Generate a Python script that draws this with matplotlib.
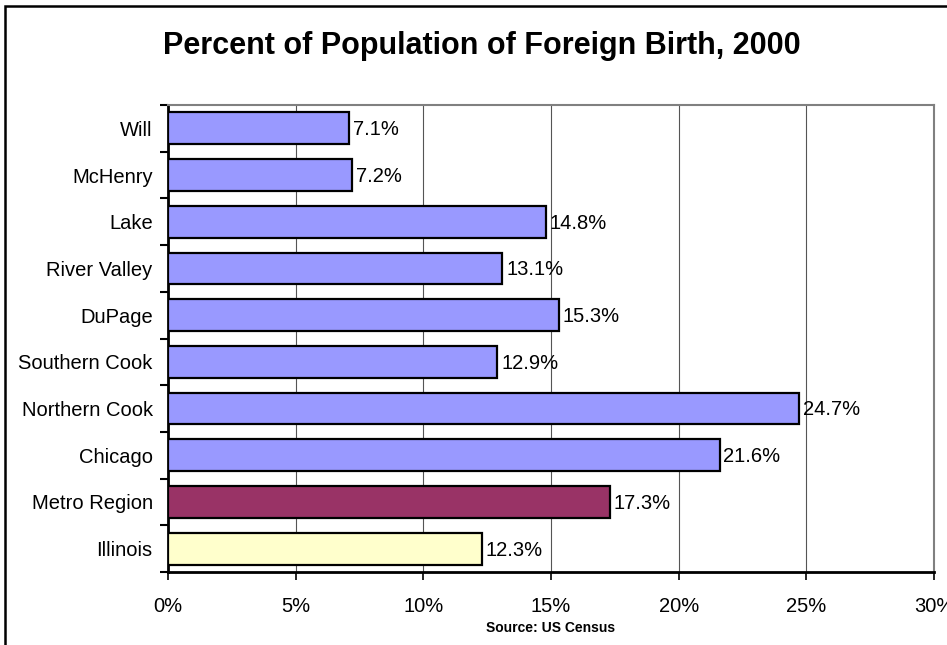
import matplotlib
matplotlib.use("Agg")
import matplotlib.pyplot as plt
from matplotlib.patches import Rectangle

plt.rcParams['font.family'] = ['Liberation Sans', 'DejaVu Sans']

categories = ["Will", "McHenry", "Lake", "River Valley", "DuPage", "Southern Cook",
              "Northern Cook", "Chicago", "Metro Region", "Illinois"]
values = [7.1, 7.2, 14.8, 13.1, 15.3, 12.9, 24.7, 21.6, 17.3, 12.3]
colors = ["#9999FF"] * 8 + ["#993366", "#FFFFCC"]
xticks = [0, 5, 10, 15, 20, 25, 30]

fig = plt.figure(figsize=(9.47, 6.45), dpi=100)
W, H = 947, 645
ax = fig.add_axes([168 / W, 1 - 572 / H, (934 - 168) / W, (572 - 105) / H])

n = len(categories)
ypos = list(range(n))
ax.barh(ypos, values, height=0.68, color=colors, edgecolor="black", linewidth=1.6, zorder=3)
for y, v in zip(ypos, values):
    ax.text(v + 0.15, y + 0.03, f"{v:.1f}%", va="center", ha="left", fontsize=14.5, zorder=4)

ax.set_xlim(0, 30)
ax.set_ylim(n - 0.5, -0.5)
ax.set_xticks(xticks)
ax.set_xticklabels([f"{t}%" for t in xticks], fontsize=14.5)
ax.set_yticks(ypos)
ax.set_yticklabels(categories, fontsize=14.5)
ax.tick_params(axis='y', length=0, pad=11)
ax.set_yticks([i - 0.5 for i in range(n + 1)], minor=True)
ax.tick_params(axis='y', which='minor', length=6, width=1.5, direction='out')
ax.tick_params(axis='x', length=6, width=1.2, direction='out', pad=12)

ax.grid(axis='x', color='#555555', linewidth=0.8, zorder=0)
ax.set_axisbelow(True)
ax.spines['left'].set_linewidth(2)
ax.spines['bottom'].set_linewidth(2)
ax.spines['top'].set_color('#808080')
ax.spines['right'].set_color('#808080')
ax.spines['top'].set_linewidth(1.5)
ax.spines['right'].set_linewidth(1.5)

fig.text(482 / W, 1 - 46 / H, "Percent of Population of Foreign Birth, 2000",
         ha="center", va="center", fontsize=22, fontweight="bold")
fig.text(551 / W, 1 - 628 / H, "Source: US Census", ha="center", va="center",
         fontsize=10, fontweight="bold")

fig.patches.append(Rectangle((5 / W, -0.1), 1.2, 1 - 6 / H + 0.1, transform=fig.transFigure,
                             fill=False, edgecolor="black", linewidth=1.8))

fig.savefig("out.png", dpi=100)
